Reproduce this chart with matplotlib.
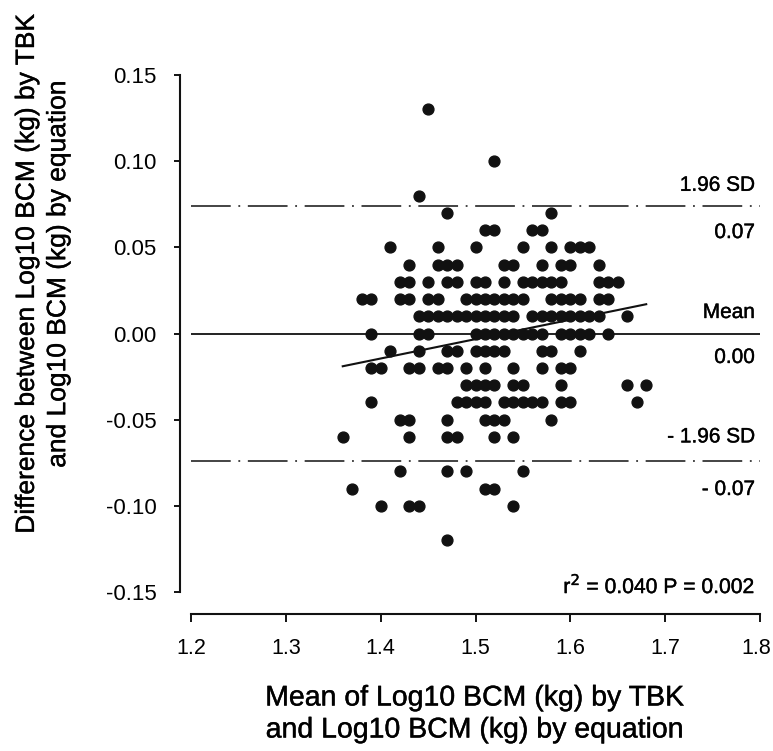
import matplotlib
matplotlib.use("Agg")
import matplotlib.pyplot as plt
import matplotlib.patheffects as pe
import matplotlib.transforms as mtransforms
import numpy as np

plt.rcParams["font.family"] = ["Liberation Sans", "DejaVu Sans"]

# differences (y) on a 0.01 grid, and the means (x) found on each row
diff_levels = [0.13, 0.10, 0.08, 0.07, 0.06, 0.05, 0.04, 0.03, 0.02, 0.01,
               0.00, -0.01, -0.02, -0.03, -0.04, -0.05, -0.06, -0.08,
               -0.09, -0.10, -0.12]
means_by_level = [
    [1.45],
    [1.52],
    [1.44],
    [1.47, 1.58],
    [1.51, 1.52, 1.56, 1.57],
    [1.41, 1.46, 1.50, 1.55, 1.58, 1.60, 1.61, 1.62],
    [1.43, 1.46, 1.47, 1.48, 1.53, 1.54, 1.57, 1.59, 1.60, 1.63],
    [1.42, 1.43, 1.45, 1.47, 1.48, 1.50, 1.51, 1.53, 1.55, 1.56, 1.57,
     1.58, 1.59, 1.63, 1.64, 1.65],
    [1.38, 1.39, 1.42, 1.43, 1.45, 1.46, 1.49, 1.50, 1.51, 1.52, 1.53,
     1.54, 1.55, 1.58, 1.59, 1.60, 1.61, 1.63, 1.64],
    [1.44, 1.45, 1.46, 1.47, 1.48, 1.49, 1.50, 1.51, 1.52, 1.53, 1.54,
     1.56, 1.57, 1.58, 1.59, 1.60, 1.61, 1.62, 1.63, 1.66],
    [1.39, 1.44, 1.45, 1.50, 1.51, 1.52, 1.53, 1.54, 1.55, 1.56, 1.57,
     1.59, 1.60, 1.61, 1.62, 1.64],
    [1.41, 1.44, 1.47, 1.48, 1.50, 1.51, 1.52, 1.53, 1.57, 1.58, 1.61],
    [1.39, 1.40, 1.43, 1.44, 1.46, 1.47, 1.49, 1.51, 1.54, 1.57, 1.59, 1.60],
    [1.49, 1.50, 1.51, 1.52, 1.54, 1.55, 1.59, 1.66, 1.68],
    [1.39, 1.48, 1.49, 1.50, 1.51, 1.53, 1.54, 1.55, 1.56, 1.57, 1.59,
     1.60, 1.67],
    [1.42, 1.43, 1.47, 1.51, 1.52, 1.53, 1.58],
    [1.36, 1.43, 1.47, 1.48, 1.52, 1.54],
    [1.42, 1.47, 1.49, 1.55],
    [1.37, 1.51, 1.52],
    [1.40, 1.43, 1.44, 1.54],
    [1.47],
]

mean_diff = 0.0
upper_loa = 0.074
lower_loa = -0.074
reg_x = [1.36, 1.68]
reg_y = [-0.019, 0.017]

x_ticks = [1.2, 1.3, 1.4, 1.5, 1.6, 1.7, 1.8]
y_ticks = [-0.15, -0.10, -0.05, 0.00, 0.05, 0.10, 0.15]

mean_log = np.concatenate([np.array(m) for m in means_by_level])
diff_log = np.concatenate([np.full(len(m), d) for d, m in zip(diff_levels, means_by_level)])

# scanned print looks a bit heavy, thicken the glyphs a touch
bold_fx = [pe.withStroke(linewidth=0.3, foreground="#111111")]

fig = plt.figure(figsize=(7.73, 7.51), dpi=100)
ax = fig.add_axes([0.2471, 0.2117, 0.7361, 0.6884])

ax.plot(mean_log, diff_log, "o", color="#111111", ms=7.8, mec="#111111", zorder=3)

ax.axhline(mean_diff, color="#111111", lw=1.3)
for lim in (upper_loa, lower_loa):
    ax.axhline(lim, color="#111111", lw=1.1, dashes=(26, 5, 1.2, 5))
ax.plot(reg_x, reg_y, color="#111111", lw=1.5)

fs = 15
labels = [
    (0.086, "1.96 SD"),
    (0.0586, f"{upper_loa:.2f}"),
    (0.0122, "Mean"),
    (-0.0139, f"{mean_diff:.2f}"),
    (-0.060, "- 1.96 SD"),
    (-0.0905, f"- {abs(lower_loa):.2f}"),
]
for yv, txt in labels:
    ax.text(1.795, yv, txt, ha="right", va="center", fontsize=fs, path_effects=bold_fx)
ax.text(1.795, -0.1457, r"r$^2$ = 0.040 P = 0.002", ha="right", va="center",
        fontsize=15.2, path_effects=bold_fx)

ax.set_xlim(1.2, 1.8)
ax.set_ylim(-0.15, 0.15)
ax.set_xticks(x_ticks)
ax.set_xticklabels([f"{v:.1f}" for v in x_ticks])
ax.set_yticks(y_ticks)
ax.set_yticklabels([f"{v:.2f}" for v in y_ticks])
for t in ax.get_xticklabels() + ax.get_yticklabels():
    t.set_path_effects(bold_fx)

ax.spines["top"].set_visible(False)
ax.spines["right"].set_visible(False)
ax.spines["left"].set_position(("outward", 8))
ax.spines["bottom"].set_position(("outward", 16))
for s in ("left", "bottom"):
    ax.spines[s].set_linewidth(1.5)
    ax.spines[s].set_color("#111111")
ax.tick_params(axis="y", direction="out", length=4, width=1.3, pad=13, labelsize=16)
ax.tick_params(axis="x", direction="out", length=6, width=1.3, pad=11, labelsize=15.5)

# last x label sits right on the figure edge, pull it in a few pixels
last = ax.get_xticklabels()[-1]
last.set_transform(last.get_transform() + mtransforms.ScaledTranslation(-4 / 100, 0, fig.dpi_scale_trans))

fig.text(0.6145, 0.0486, "Mean of Log10 BCM (kg) by TBK\nand Log10 BCM (kg) by equation",
         ha="center", va="center", fontsize=20.5, linespacing=1.3, path_effects=bold_fx)
fig.text(0.055, 0.635, "Difference between Log10 BCM (kg) by TBK\nand Log10 BCM (kg) by equation",
         ha="center", va="center", rotation=90, fontsize=19, linespacing=1.38,
         path_effects=bold_fx)

fig.savefig("out.png", dpi=100)
